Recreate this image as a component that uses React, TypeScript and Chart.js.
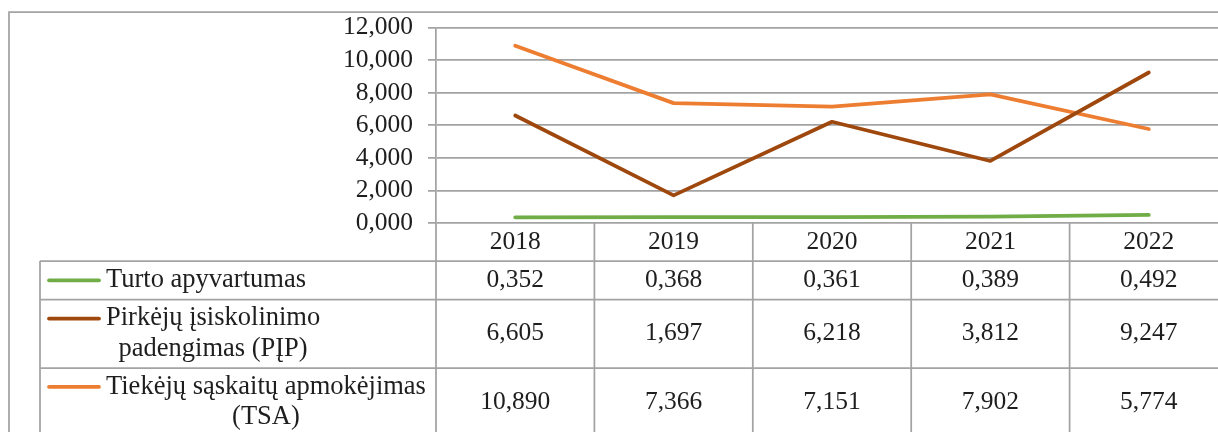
import React, { useEffect, useRef } from "react";
import { Chart, registerables } from "chart.js";

Chart.register(...registerables);

const years = ["2018", "2019", "2020", "2021", "2022"];
const turto = [0.352, 0.368, 0.361, 0.389, 0.492];
const pip = [6.605, 1.697, 6.218, 3.812, 9.247];
const tsa = [10.89, 7.366, 7.151, 7.902, 5.774];

const seriesNames = [
  ["Turto apyvartumas"],
  ["Pirkėjų įsiskolinimo", "padengimas (PĮP)"],
  ["Tiekėjų sąskaitų apmokėjimas", "(TSA)"],
];
const seriesColors = ["#70AD47", "#9E480E", "#ED7D31"];
const yTicks = { min: 0, max: 12, step: 2 };

const FONT = "Liberation Serif";
const FSIZE = 25.5;
const LEGEND_FSIZE = 26.5;
const TEXT = "#1e1e1e";
const GRID = "#a3a3a3";
const GRIDW = 1.75;

const fmt = (v: number) => v.toFixed(3).replace(".", ",");

const tablePlugin = {
  id: "dataTable",
  afterDraw(chart: any) {
    const ctx = chart.ctx as CanvasRenderingContext2D;
    const x = chart.scales.x;
    const area = chart.chartArea;
    const H = chart.height;
    const n = chart.data.labels.length;
    const rowTops = [253, 291.5, 360, 428];
    const tableLeft = 32;
    const right = area.right;
    ctx.save();
    ctx.strokeStyle = GRID;
    ctx.lineWidth = GRIDW;
    // outer border
    ctx.beginPath();
    ctx.moveTo(1, H);
    ctx.lineTo(1, 4);
    ctx.lineTo(chart.width, 4);
    ctx.stroke();
    // axis extension
    ctx.beginPath();
    ctx.moveTo(area.left, area.bottom);
    ctx.lineTo(area.left, H);
    ctx.stroke();
    // column boundaries
    for (let i = 1; i <= n; i++) {
      const bx =
        i < n
          ? (x.getPixelForValue(i - 1) + x.getPixelForValue(i)) / 2
          : right;
      ctx.beginPath();
      ctx.moveTo(bx, area.bottom);
      ctx.lineTo(bx, H);
      ctx.stroke();
    }
    // table left border
    ctx.beginPath();
    ctx.moveTo(tableLeft, rowTops[0]);
    ctx.lineTo(tableLeft, H);
    ctx.stroke();
    // row lines
    rowTops.forEach((ry) => {
      ctx.beginPath();
      ctx.moveTo(tableLeft, ry);
      ctx.lineTo(right, ry);
      ctx.stroke();
    });

    ctx.font = `${FSIZE}px "${FONT}"`;
    ctx.fillStyle = TEXT;
    ctx.textBaseline = "middle";
    ctx.textAlign = "center";
    // header years
    const headerY = (area.bottom + rowTops[0]) / 2;
    chart.data.labels.forEach((lab: string, i: number) => {
      ctx.fillText(lab, x.getPixelForValue(i), headerY);
    });
    // rows
    const lineGap = 30.5;
    chart.data.datasets.forEach((ds: any, r: number) => {
      const top = rowTops[r];
      const bot = rowTops[r + 1];
      const cy = (top + bot) / 2;
      ctx.font = `${FSIZE}px "${FONT}"`;
      ds.data.forEach((v: number, i: number) => {
        ctx.textAlign = "center";
        ctx.fillText(fmt(v), x.getPixelForValue(i), cy);
      });
      ctx.font = `${LEGEND_FSIZE}px "${FONT}"`;
      const lines = seriesNames[r];
      const firstY = cy - ((lines.length - 1) * lineGap) / 2;
      const widths = lines.map((l) => ctx.measureText(l).width);
      const maxW = Math.max(...widths);
      const textStart = 98;
      ctx.textAlign = "center";
      lines.forEach((l, k) => {
        ctx.fillText(l, textStart + maxW / 2, firstY + k * lineGap);
      });
      ctx.strokeStyle = ds.borderColor;
      ctx.lineWidth = 3.75;
      ctx.lineCap = "round";
      ctx.beginPath();
      ctx.moveTo(41, firstY);
      ctx.lineTo(91, firstY);
      ctx.stroke();
      ctx.strokeStyle = GRID;
      ctx.lineWidth = GRIDW;
      ctx.lineCap = "butt";
    });
    ctx.restore();
  },
};

export default function App() {
  const ref = useRef<HTMLCanvasElement | null>(null);
  useEffect(() => {
    document.body.style.margin = "0";
    document.documentElement.style.overflow = "hidden";
    const canvas = ref.current!;
    const mk = (data: number[], i: number) => ({
      label: seriesNames[i].join(" "),
      data,
      borderColor: seriesColors[i],
      backgroundColor: seriesColors[i],
      borderWidth: 3.75,
      borderCapStyle: "round" as const,
      borderJoinStyle: "round" as const,
      pointRadius: 0,
      tension: 0,
      fill: false,
    });
    const chart = new Chart(canvas, {
      type: "line",
      data: {
        labels: years,
        datasets: [mk(turto, 0), mk(pip, 1), mk(tsa, 2)],
      },
      options: {
        animation: false,
        responsive: false,
        devicePixelRatio: 1,
        layout: { padding: { top: 19.7, right: 20, bottom: 225, left: 0 } },
        plugins: {
          legend: { display: false },
          tooltip: { enabled: false },
        },
        scales: {
          x: { display: false, offset: true },
          y: {
            min: yTicks.min,
            max: yTicks.max,
            afterFit: (s: any) => {
              s.width = 428;
              s.paddingTop = 0;
              s.paddingBottom = 0;
            },
            ticks: {
              stepSize: yTicks.step,
              autoSkip: false,
              padding: 15,
              color: TEXT,
              font: { family: FONT, size: FSIZE },
              callback: (v: any) => fmt(Number(v)),
            },
            grid: {
              color: GRID,
              lineWidth: GRIDW,
              tickLength: 8,
              drawTicks: true,
            },
            border: { display: true, color: GRID, width: GRIDW },
          },
        },
      } as any,
      plugins: [tablePlugin],
    });
    return () => chart.destroy();
  }, []);
  return (
    <div
      style={{
        width: 1218,
        height: 432,
        overflow: "hidden",
        paddingLeft: 8,
        paddingTop: 8,
        boxSizing: "border-box",
      }}
    >
      <canvas
        ref={ref}
        width={1240}
        height={440}
        style={{ display: "block", width: 1240, height: 440 }}
      />
    </div>
  );
}
